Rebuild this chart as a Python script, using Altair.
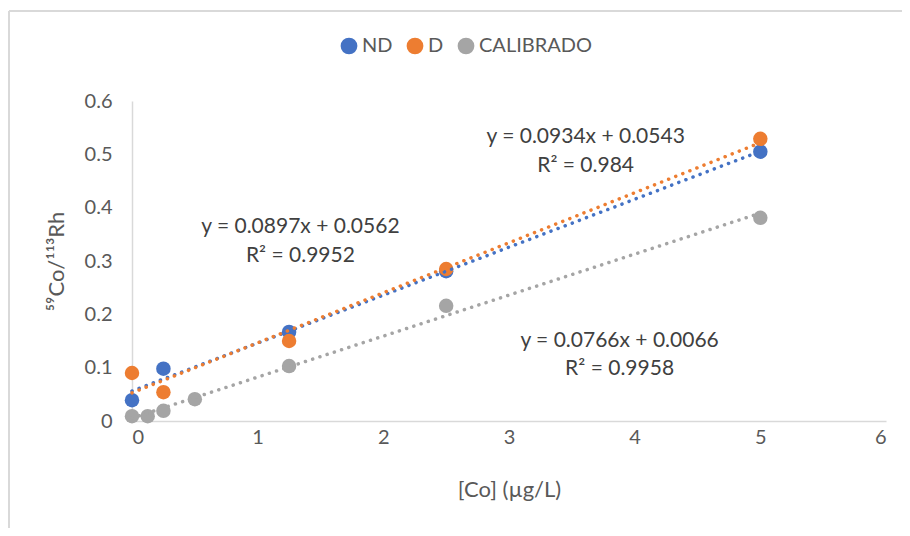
import altair as alt
import pandas as pd

# Data
nd_x = [0, 0.25, 1.25, 2.5, 5]
nd_y = [0.039, 0.098, 0.167, 0.281, 0.505]
d_x = [0, 0.25, 1.25, 2.5, 5]
d_y = [0.090, 0.054, 0.150, 0.285, 0.529]
cal_x = [0, 0.125, 0.25, 0.5, 1.25, 2.5, 5]
cal_y = [0.009, 0.009, 0.019, 0.041, 0.103, 0.216, 0.381]

series_names = ["ND", "D", "CALIBRADO"]
series_colors = ["#4472C4", "#ED7D31", "#A5A5A5"]

eq_text = ["y = 0.0934x + 0.0543", "R² = 0.984",
           "y = 0.0897x + 0.0562", "R² = 0.9952",
           "y = 0.0766x + 0.0066", "R² = 0.9958"]
eq_x = [3.61, 3.61, 1.34, 1.34, 3.88, 3.88]
eq_y = [0.533, 0.478, 0.364, 0.310, 0.150, 0.0976]

rows = []
for name, xs, ys in [("ND", nd_x, nd_y), ("D", d_x, d_y), ("CALIBRADO", cal_x, cal_y)]:
    for a, b in zip(xs, ys):
        rows.append({"x": a, "y": b, "series": name})
df = pd.DataFrame(rows)
eq_df = pd.DataFrame({"text": eq_text, "x": eq_x, "y": eq_y})

FONT = "Lato"
TXT = "#595959"
W, H = 754, 320

xscale = alt.Scale(domain=[0, 6], nice=False, zero=True)
yscale = alt.Scale(domain=[0, 0.6], nice=False)

legend = alt.Legend(
    title=None, orient="none", direction="horizontal",
    legendX=207, legendY=-65, symbolType="circle", symbolSize=280,
    symbolStrokeWidth=0, symbolDash=[1, 0],
    labelFontSize=20, labelColor=TXT, labelFont=FONT,
    columnPadding=12, labelOffset=3,
)
color = alt.Color("series:N", scale=alt.Scale(domain=series_names, range=series_colors), legend=legend)

base = alt.Chart(df)

points = base.mark_circle(size=210, opacity=1).encode(
    x=alt.X("x:Q", scale=xscale,
            axis=alt.Axis(title="[Co] (µg/L)", values=[0, 1, 2, 3, 4, 5, 6], format="d",
                          grid=False, ticks=False, domainColor="#D9D9D9", domainWidth=1.5,
                          labelFontSize=20, labelColor=TXT, labelFont=FONT, labelPadding=6,
                          titleFontSize=22, titleColor=TXT, titleFont=FONT,
                          titleFontWeight="normal", titlePadding=32)),
    y=alt.Y("y:Q", scale=yscale,
            axis=alt.Axis(title="⁵⁹Co/¹¹³Rh", values=[0, 0.1, 0.2, 0.3, 0.4, 0.5, 0.6],
                          grid=False, ticks=False, domainColor="#D9D9D9", domainWidth=1.5,
                          labelFontSize=20, labelColor=TXT, labelFont=FONT, labelPadding=20,
                          labelExpr="datum.value == 0 ? '0' : format(datum.value, '.1f')",
                          titleFontSize=22, titleColor=TXT, titleFont=FONT,
                          titleFontWeight="normal", titlePadding=16)),
    color=color,
)

lines = base.transform_regression(
    "x", "y", groupby=["series"]
).mark_line(strokeWidth=3.5, strokeDash=[0.1, 7.5], strokeCap="round").encode(
    x=alt.X("x:Q", scale=xscale),
    y=alt.Y("y:Q", scale=yscale),
    color=color,
)

eqs = alt.Chart(eq_df).mark_text(fontSize=21, color="#404040", font=FONT).encode(
    x=alt.X("x:Q", scale=xscale),
    y=alt.Y("y:Q", scale=yscale),
    text="text:N",
)

border_df = pd.DataFrame({"k": [0]})
border_v = alt.Chart(border_df).mark_rule(color="#D9D9D9", strokeWidth=2).encode(
    x=alt.value(-123), y=alt.value(-90), y2=alt.value(H + 110)
)
border_h = alt.Chart(border_df).mark_rule(color="#D9D9D9", strokeWidth=2).encode(
    x=alt.value(-123), x2=alt.value(W + 20), y=alt.value(-90)
)

chart = alt.layer(points, lines, eqs, border_v, border_h).properties(
    width=W, height=H,
    autosize=alt.AutoSizeParams(type="none"),
    padding={"left": 124, "top": 93, "right": 16, "bottom": 107},
).configure_view(stroke=None)

chart.save("out.html", embed_options={"renderer": "svg", "actions": False})
